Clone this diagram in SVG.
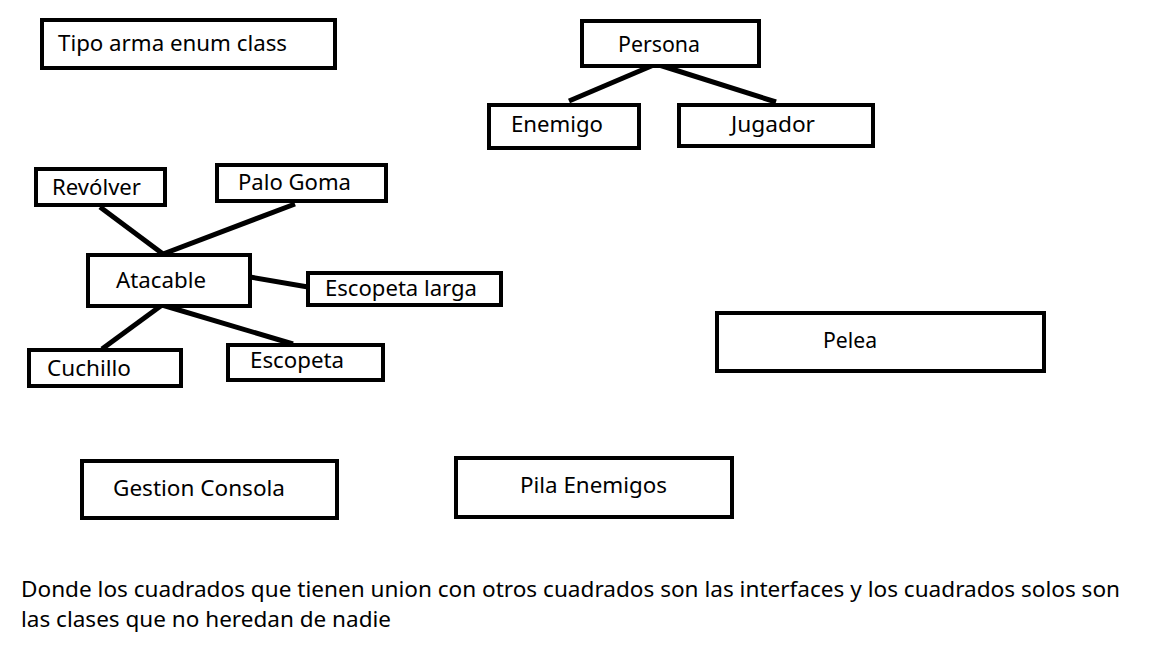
<svg xmlns="http://www.w3.org/2000/svg" width="1150" height="650" viewBox="0 0 1150 650">
<style>
.box{fill:#fff;stroke:#000;stroke-width:4}
.lbl{font-family:"Noto Sans","Open Sans","Liberation Sans",sans-serif;font-size:21px;fill:#000}
.con{stroke:#000;stroke-width:5;fill:none}
</style>
<rect width="1150" height="650" fill="#fff"/>
<g id="connectors">
<line class="con" x1="656" y1="64" x2="569" y2="101"/>
<line class="con" x1="656" y1="64" x2="776" y2="102"/>
<line class="con" x1="100" y1="207" x2="163" y2="254"/>
<line class="con" x1="295" y1="204" x2="163" y2="254"/>
<line class="con" x1="250" y1="277" x2="308" y2="287"/>
<line class="con" x1="162" y1="305" x2="102" y2="349"/>
<line class="con" x1="162" y1="305" x2="293" y2="344"/>
</g>
<g id="tipo-arma"><rect class="box" x="42" y="20" width="293" height="48"/><text class="lbl" x="58" y="51" textLength="229" lengthAdjust="spacingAndGlyphs">Tipo arma enum class</text></g>
<g id="persona"><rect class="box" x="582" y="21" width="177" height="45"/><text class="lbl" x="618" y="52" textLength="82" lengthAdjust="spacingAndGlyphs">Persona</text></g>
<g id="enemigo"><rect class="box" x="489" y="105" width="150" height="43"/><text class="lbl" x="511" y="132" textLength="92" lengthAdjust="spacingAndGlyphs">Enemigo</text></g>
<g id="jugador"><rect class="box" x="679" y="105" width="194" height="41"/><text class="lbl" x="731" y="132" textLength="84" lengthAdjust="spacingAndGlyphs">Jugador</text></g>
<g id="revolver"><rect class="box" x="36" y="169" width="129" height="36"/><text class="lbl" x="52" y="195" textLength="89" lengthAdjust="spacingAndGlyphs">Revólver</text></g>
<g id="palo-goma"><rect class="box" x="217" y="165" width="169" height="36"/><text class="lbl" x="238" y="190" textLength="113" lengthAdjust="spacingAndGlyphs">Palo Goma</text></g>
<g id="atacable"><rect class="box" x="88" y="255" width="162" height="51"/><text class="lbl" x="116" y="288" textLength="90" lengthAdjust="spacingAndGlyphs">Atacable</text></g>
<g id="escopeta-larga"><rect class="box" x="308" y="273" width="193" height="32"/><text class="lbl" x="325" y="296" textLength="152" lengthAdjust="spacingAndGlyphs">Escopeta larga</text></g>
<g id="cuchillo"><rect class="box" x="29" y="350" width="152" height="36"/><text class="lbl" x="47" y="376" textLength="84" lengthAdjust="spacingAndGlyphs">Cuchillo</text></g>
<g id="escopeta"><rect class="box" x="228" y="345" width="155" height="35"/><text class="lbl" x="250" y="368" textLength="94" lengthAdjust="spacingAndGlyphs">Escopeta</text></g>
<g id="pelea"><rect class="box" x="717" y="313" width="327" height="58"/><text class="lbl" x="823" y="348" textLength="54" lengthAdjust="spacingAndGlyphs">Pelea</text></g>
<g id="gestion-consola"><rect class="box" x="82" y="461" width="255" height="57"/><text class="lbl" x="113" y="496" textLength="172" lengthAdjust="spacingAndGlyphs">Gestion Consola</text></g>
<g id="pila-enemigos"><rect class="box" x="456" y="458" width="276" height="59"/><text class="lbl" x="520" y="493" textLength="147" lengthAdjust="spacingAndGlyphs">Pila Enemigos</text></g>
<g id="nota">
<text class="lbl" x="21" y="597" textLength="1099" lengthAdjust="spacingAndGlyphs">Donde los cuadrados que tienen union con otros cuadrados son las interfaces y los cuadrados solos son</text>
<text class="lbl" x="21" y="627" textLength="370" lengthAdjust="spacingAndGlyphs">las clases que no heredan de nadie</text>
</g>
</svg>
